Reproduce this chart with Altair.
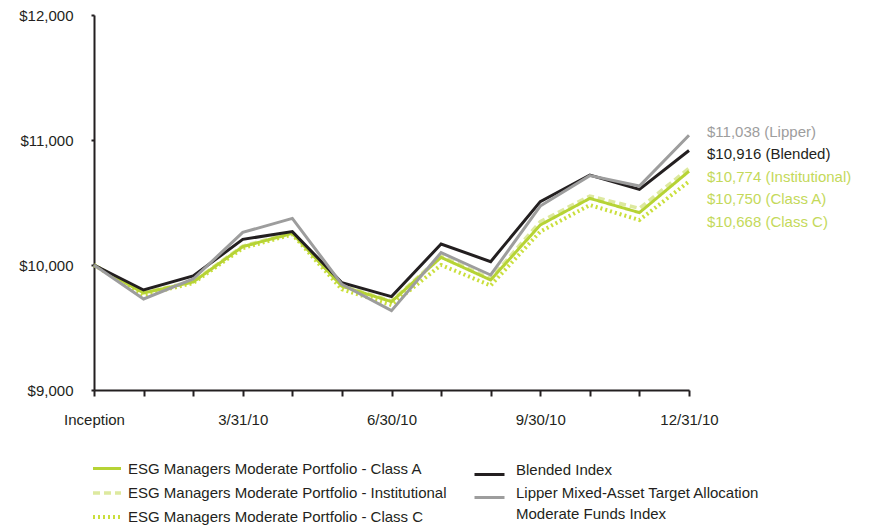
import altair as alt
import pandas as pd

# ---------------- data ----------------
periods = list(range(13))
x_tick_labels = ["Inception", "3/31/10", "6/30/10", "9/30/10", "12/31/10"]
y_ticks = [9000, 10000, 11000, 12000]

green_series = [
    "ESG Managers Moderate Portfolio - Class A",
    "ESG Managers Moderate Portfolio - Institutional",
    "ESG Managers Moderate Portfolio - Class C",
]
index_series = [
    "Blended Index",
    "Lipper Mixed-Asset Target Allocation Moderate Funds Index",
]

class_a = [10000, 9776, 9864, 10147, 10253, 9830, 9707, 10061, 9880, 10320, 10533, 10419, 10750]
institutional = [10000, 9780, 9868, 10152, 10258, 9836, 9712, 10072, 9892, 10347, 10552, 10453, 10774]
class_c = [10000, 9760, 9856, 10135, 10245, 9805, 9680, 10000, 9836, 10267, 10480, 10360, 10668]
blended = [10000, 9800, 9912, 10205, 10267, 9858, 9747, 10168, 10027, 10507, 10720, 10605, 10916]
lipper = [10000, 9728, 9888, 10261, 10373, 9845, 9635, 10099, 9920, 10472, 10715, 10632, 11038]

end_label_names = ["Lipper", "Blended", "Institutional", "Class A", "Class C"]
end_label_values = [lipper[-1], blended[-1], institutional[-1], class_a[-1], class_c[-1]]

# ---------------- styles ----------------
FONT = "Liberation Sans"
FS = 15
DARK = "#231f20"
GRAY = "#9d9d9d"
green_colors = ["#b6d335", "#dde99f", "#cadf3c"]
green_dash = [[1, 0], [7, 4], [2, 3]]
green_width = [3, 4, 3]
index_colors = [DARK, GRAY]
index_width = [3, 3]
label_colors = [GRAY, DARK, "#c4d95a", "#c4d95a", "#c4d95a"]

# ---------------- tables ----------------
green_df = pd.concat([
    pd.DataFrame({"period": periods, "value": class_c, "series": green_series[2]}),
    pd.DataFrame({"period": periods, "value": institutional, "series": green_series[1]}),
    pd.DataFrame({"period": periods, "value": class_a, "series": green_series[0]}),
])
index_df = pd.concat([
    pd.DataFrame({"period": periods, "value": blended, "series": index_series[0]}),
    pd.DataFrame({"period": periods, "value": lipper, "series": index_series[1]}),
])

# end labels stacked from the top value downwards (layout spacing in data units)
label_top = 11068
label_step = 181
labels_df = pd.DataFrame({
    "period": [periods[-1]] * len(end_label_names),
    "pos": [label_top - i * label_step for i in range(len(end_label_names))],
    "text": [f"${v:,} ({n})" for v, n in zip(end_label_values, end_label_names)],
    "color": label_colors,
})

x_enc = alt.X(
    "period:Q",
    scale=alt.Scale(domain=[0, 12], nice=False, zero=False),
    axis=alt.Axis(
        values=periods,
        labelExpr="datum.value % 3 == 0 ? " + str(x_tick_labels) + "[datum.value / 3] : ''",
        title=None,
        grid=False,
        tickSize=6,
        tickWidth=2,
        domainWidth=2,
        labelPadding=16,
        labelFlush=False,
    ),
)
y_scale = alt.Scale(domain=[9000, 12000], nice=False, zero=False)
y_axis = alt.Axis(
    values=y_ticks,
    format="$,.0f",
    title=None,
    grid=False,
    tickSize=3,
    tickWidth=2,
    domainWidth=2,
    labelPadding=18,
)

green_lines = alt.Chart(green_df).mark_line(strokeCap="butt", strokeJoin="miter").encode(
    x=x_enc,
    y=alt.Y("value:Q", scale=y_scale, axis=y_axis),
    color=alt.Color(
        "series:N",
        scale=alt.Scale(domain=green_series, range=green_colors),
        legend=alt.Legend(
            orient="none", legendX=-3, legendY=438, title=None,
            symbolType="stroke", symbolSize=784, labelOffset=5,
            rowPadding=-10, labelLimit=400,
        ),
    ),
    strokeDash=alt.StrokeDash(
        "series:N", scale=alt.Scale(domain=green_series, range=green_dash), legend=alt.Legend(title=None)
    ),
    strokeWidth=alt.StrokeWidth(
        "series:N", scale=alt.Scale(domain=green_series, range=green_width), legend=alt.Legend(title=None)
    ),
    detail="series:N",
)

lipper_split = "['Lipper Mixed-Asset Target Allocation', 'Moderate Funds Index']"
index_lines = alt.Chart(index_df).mark_line(strokeCap="butt", strokeJoin="miter").encode(
    x=x_enc,
    y=alt.Y("value:Q", scale=y_scale, axis=y_axis),
    color=alt.Color(
        "series:N",
        scale=alt.Scale(domain=index_series, range=index_colors),
        legend=alt.Legend(
            orient="none", legendX=379, legendY=443, title=None,
            symbolType="stroke", symbolSize=900, labelOffset=10,
            rowPadding=-9, labelLimit=400, labelBaseline="alphabetic",
            labelExpr="datum.label == '" + index_series[1] + "' ? " + lipper_split + " : datum.label",
        ),
    ),
    strokeWidth=alt.StrokeWidth(
        "series:N", scale=alt.Scale(domain=index_series, range=index_width), legend=alt.Legend(title=None)
    ),
)

end_labels = alt.Chart(labels_df).mark_text(align="left", baseline="middle", dx=18, font=FONT, fontSize=FS).encode(
    x=alt.X("period:Q", scale=alt.Scale(domain=[0, 12], nice=False, zero=False)),
    y=alt.Y("pos:Q", scale=y_scale),
    text="text:N",
    color=alt.Color("color:N", scale=None),
)

chart = (
    alt.layer(green_lines, index_lines, end_labels)
    .resolve_scale(color="independent", strokeWidth="independent", strokeDash="independent")
    .properties(
        width=595,
        height=375,
        padding={"left": 86, "top": 7, "right": 170, "bottom": 135},
        autosize=alt.AutoSizeParams(type="none"),
    )
    .configure(style={"guide-label": {"lineHeight": 21}})
    .configure_view(stroke=None)
    .configure_axis(
        labelFont=FONT, labelFontSize=FS, labelColor=DARK,
        domainColor=DARK, tickColor=DARK,
    )
    .configure_legend(
        labelFont=FONT, labelFontSize=FS, labelColor=DARK,
    )
)

chart.save("out.html", embed_options={"renderer": "svg", "actions": False})
